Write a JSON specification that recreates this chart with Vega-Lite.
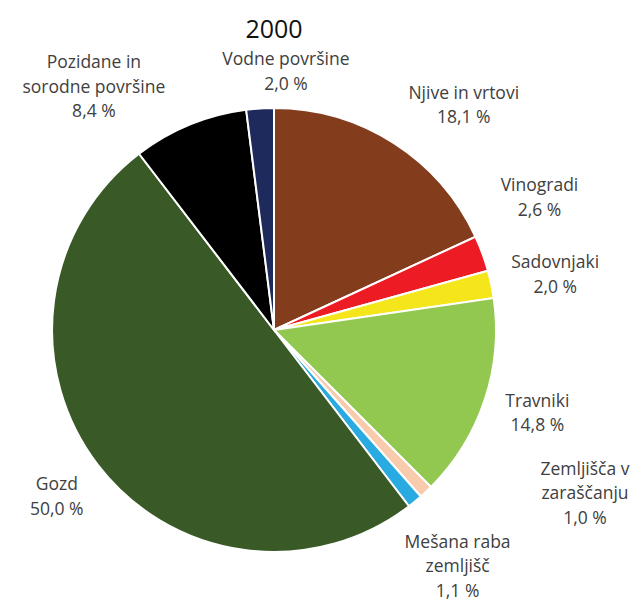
{
  "$schema": "https://vega.github.io/schema/vega-lite/v6.json",
  "width": 500,
  "height": 500,
  "autosize": {"type": "none"},
  "padding": {"top": 80, "left": 24, "right": 114, "bottom": 23},
  "background": "white",
  "config": {"view": {"stroke": null}, "font": "Open Sans"},
  "title": {"text": "2000", "fontSize": 25, "fontWeight": "normal", "color": "#111111", "font": "Open Sans", "frame": "group", "offset": 14, "dy": 26, "baseline": "alphabetic"},
  "data": {"values": [
    {"k": 1, "label": "Njive in vrtovi", "share": 18.1},
    {"k": 2, "label": "Vinogradi", "share": 2.6},
    {"k": 3, "label": "Sadovnjaki", "share": 2.0},
    {"k": 4, "label": "Travniki", "share": 14.8},
    {"k": 5, "label": "Zemljišča v\nzaraščanju", "share": 1.0},
    {"k": 6, "label": "Mešana raba\nzemljišč", "share": 1.1},
    {"k": 7, "label": "Gozd", "share": 50.0},
    {"k": 8, "label": "Pozidane in\nsorodne površine", "share": 8.4},
    {"k": 9, "label": "Vodne površine", "share": 2.0}
  ]},
  "transform": [
    {"stack": "share", "groupby": [], "sort": [{"field": "k", "order": "ascending"}], "as": ["s0", "s1"]},
    {"calculate": "(datum.s0 + datum.s1) / 2", "as": "mid"},
    {"calculate": "datum.label + '\\n' + replace(format(datum.share, '.1f'), '.', ',') + ' %'", "as": "txt"}
  ],
  "layer": [
    {
      "mark": {"type": "arc", "radius": 222, "stroke": "white", "strokeWidth": 2},
      "encoding": {
        "theta": {"field": "s0", "type": "quantitative", "scale": {"domain": [0, 100]}},
        "theta2": {"field": "s1"},
        "color": {"field": "k", "type": "nominal", "legend": null,
          "scale": {"domain": [1, 2, 3, 4, 5, 6, 7, 8, 9],
            "range": ["#833c1c", "#ed1c24", "#f4e61a", "#92c850", "#f8cbad", "#29abe2", "#395a27", "#000000", "#1f2a5c"]}}
      }
    },
    {
      "transform": [{"filter": "datum.k == 1"}],
      "mark": {"type": "text", "radius": 303, "thetaOffset": 0.108, "fontSize": 17.5, "lineBreak": "\n", "lineHeight": 24.5, "color": "#404040", "align": "center", "baseline": "middle"},
      "encoding": {"theta": {"field": "mid", "type": "quantitative"}, "text": {"field": "txt"}}
    },
    {
      "transform": [{"filter": "datum.k == 2"}],
      "mark": {"type": "text", "radius": 302, "thetaOffset": -0.145, "fontSize": 17.5, "lineBreak": "\n", "lineHeight": 24.5, "color": "#404040", "align": "center", "baseline": "middle"},
      "encoding": {"theta": {"field": "mid", "type": "quantitative"}, "text": {"field": "txt"}}
    },
    {
      "transform": [{"filter": "datum.k == 3"}],
      "mark": {"type": "text", "radius": 289, "thetaOffset": -0.026, "fontSize": 17.5, "lineBreak": "\n", "lineHeight": 24.5, "color": "#404040", "align": "center", "baseline": "middle"},
      "encoding": {"theta": {"field": "mid", "type": "quantitative"}, "text": {"field": "txt"}}
    },
    {
      "transform": [{"filter": "datum.k == 4"}],
      "mark": {"type": "text", "radius": 273, "thetaOffset": -0.054, "fontSize": 17.5, "lineBreak": "\n", "lineHeight": 24.5, "color": "#404040", "align": "center", "baseline": "middle"},
      "encoding": {"theta": {"field": "mid", "type": "quantitative"}, "text": {"field": "txt"}}
    },
    {
      "transform": [{"filter": "datum.k == 5"}],
      "mark": {"type": "text", "radius": 341, "thetaOffset": -0.394, "fontSize": 17.5, "lineBreak": "\n", "lineHeight": 24.5, "color": "#404040", "align": "center", "baseline": "middle"},
      "encoding": {"theta": {"field": "mid", "type": "quantitative"}, "text": {"field": "txt"}}
    },
    {
      "transform": [{"filter": "datum.k == 6"}],
      "mark": {"type": "text", "radius": 281, "thetaOffset": -0.024, "fontSize": 17.5, "lineBreak": "\n", "lineHeight": 24.5, "color": "#404040", "align": "center", "baseline": "middle"},
      "encoding": {"theta": {"field": "mid", "type": "quantitative"}, "text": {"field": "txt"}}
    },
    {
      "transform": [{"filter": "datum.k == 7"}],
      "mark": {"type": "text", "radius": 267, "thetaOffset": 0.033, "fontSize": 17.5, "lineBreak": "\n", "lineHeight": 24.5, "color": "#404040", "align": "center", "baseline": "middle"},
      "encoding": {"theta": {"field": "mid", "type": "quantitative"}, "text": {"field": "txt"}}
    },
    {
      "transform": [{"filter": "datum.k == 8"}],
      "mark": {"type": "text", "radius": 322, "thetaOffset": -0.204, "fontSize": 17.5, "lineBreak": "\n", "lineHeight": 24.5, "color": "#404040", "align": "center", "baseline": "middle"},
      "encoding": {"theta": {"field": "mid", "type": "quantitative"}, "text": {"field": "txt"}}
    },
    {
      "transform": [{"filter": "datum.k == 9"}],
      "mark": {"type": "text", "radius": 270, "thetaOffset": 0.107, "fontSize": 17.5, "lineBreak": "\n", "lineHeight": 24.5, "color": "#404040", "align": "center", "baseline": "middle"},
      "encoding": {"theta": {"field": "mid", "type": "quantitative"}, "text": {"field": "txt"}}
    }
  ]
}
